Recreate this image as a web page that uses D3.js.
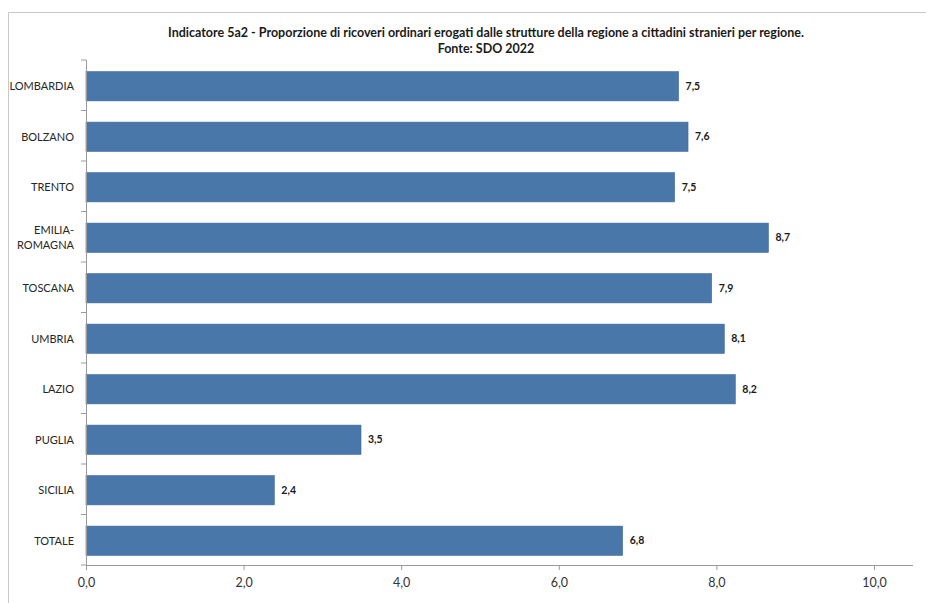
<!DOCTYPE html>
<html><head><meta charset="utf-8">
<script src="https://cdn.jsdelivr.net/npm/d3@7"></script>
<style>body{margin:0;background:#fff}svg{display:block}</style>
</head><body>
<script>
const categories = ["LOMBARDIA","BOLZANO","TRENTO","EMILIA-ROMAGNA","TOSCANA","UMBRIA","LAZIO","PUGLIA","SICILIA","TOTALE"];
const values = [7.52, 7.64, 7.47, 8.66, 7.94, 8.1, 8.24, 3.49, 2.39, 6.81];
const xTicks = [0, 2, 4, 6, 8, 10];
const titleLines = ["Indicatore 5a2 - Proporzione di ricoveri ordinari erogati dalle strutture della regione a cittadini stranieri per regione.", "Fonte: SDO 2022"];

const W = 926, H = 603;
const svg = d3.select("body").append("svg").attr("width", W).attr("height", H);
const font = "Lato, 'Open Sans', sans-serif";

// outer frame
svg.append("path").attr("d", `M8.5,${H} V12.5 H${W}`).attr("fill","none").attr("stroke","#c8c8c8").attr("stroke-width",1);

const x = d3.scaleLinear().domain([0, 10]).range([86, 874]);
const y = d3.scaleBand().domain(categories).range([60, 565]).paddingInner(0.42).paddingOuter(0.21);

// title
svg.append("g").selectAll("text").data(titleLines).join("text")
  .attr("x", 486).attr("y", (d,i) => 37 + i*16)
  .attr("text-anchor","middle").attr("font-family", font).attr("font-weight","bold")
  .attr("font-size", 12.5).attr("fill","#1a1a1a").text(d => d);

// bars
svg.append("g").selectAll("rect").data(values).join("rect")
  .attr("x", x(0)).attr("y", (d,i) => y(categories[i]) + 1)
  .attr("width", d => x(d) - x(0)).attr("height", y.bandwidth())
  .attr("fill", "#4a77a9").attr("stroke","#3f6a9c").attr("stroke-width",0.6);

// value labels
const fmt = v => d3.format(".1f")(v).replace(".", ",");
svg.append("g").selectAll("text").data(values).join("text")
  .attr("x", d => x(d) + 7).attr("y", (d,i) => y(categories[i]) + y.bandwidth()/2 + 4.5)
  .attr("font-family", font).attr("font-weight","bold").attr("font-size", 10.5)
  .attr("fill","#1a1a1a").text(fmt);

// x axis
const xAxis = svg.append("g").attr("transform", `translate(0,565)`)
  .call(d3.axisBottom(x).tickValues(xTicks).tickSize(5).tickSizeOuter(0).tickFormat(v => d3.format(".1f")(v).replace(".", ",")));
xAxis.select(".domain").attr("d", `M${x(0)},0.5 H913`).attr("stroke","#9a9a9a");
xAxis.selectAll(".tick line").attr("stroke","#9a9a9a");
xAxis.selectAll(".tick text").attr("font-family", font).attr("font-size", 12.5).attr("fill","#333").attr("dy","1.1em");

// y axis
const yAxis = svg.append("g").attr("transform", `translate(${x(0)},0)`);
yAxis.append("line").attr("x1",0.5).attr("x2",0.5).attr("y1",60).attr("y2",565).attr("stroke","#9a9a9a");
const bounds = d3.range(categories.length + 1).map(i => 60 + i * (505 / categories.length));
yAxis.selectAll("line.tk").data(bounds).join("line").attr("class","tk")
  .attr("x1",-5).attr("x2",0).attr("y1",d=>d).attr("y2",d=>d).attr("stroke","#9a9a9a");

const catG = svg.append("g");
categories.forEach(c => {
  const cy = y(c) + y.bandwidth()/2 + 1;
  const lines = c === "EMILIA-ROMAGNA" ? ["EMILIA-", "ROMAGNA"] : [c];
  const t = catG.append("text").attr("text-anchor","end").attr("font-family", font)
    .attr("font-size", 11).attr("fill","#262626");
  lines.forEach((l, i) => {
    t.append("tspan").attr("x", 74)
      .attr("y", cy + 4 + (i - (lines.length-1)/2) * 15).text(l);
  });
});
</script>
</body></html>
